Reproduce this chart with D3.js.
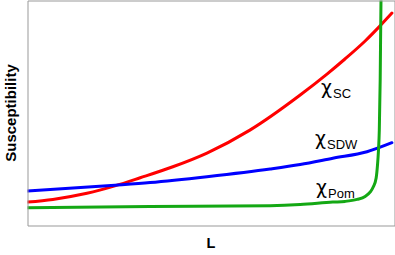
<!DOCTYPE html>
<html>
<head>
<meta charset="utf-8">
<script src="https://d3js.org/d3.v7.min.js"></script>
<style>
  html, body { margin: 0; padding: 0; background: #fff; }
  svg { display: block; font-family: "Liberation Sans", Arial, sans-serif; }
</style>
</head>
<body>
<div id="chart"></div>
<script>
// Data (arbitrary units, L and susceptibility 0..10)
const scL = [0, 0.69, 1.62, 2.38, 3.07, 3.96, 4.89, 6.06, 7.43, 8.16, 8.65, 9.20, 9.60, 9.93];
const scChi = [1.04, 1.16, 1.43, 1.76, 2.12, 2.61, 3.22, 4.24, 5.80, 6.73, 7.40, 8.20, 8.86, 9.44];

const sdwL = [0, 2.38, 3.34, 4.89, 6.61, 7.43, 8.32, 9.25, 9.93];
const sdwChi = [1.53, 1.79, 1.91, 2.17, 2.51, 2.71, 2.99, 3.28, 3.68];

const pomL = [0, 3.34, 6.61, 7.43, 8.32, 8.65, 8.98, 9.20, 9.34, 9.42, 9.50, 9.537, 9.564, 9.586, 9.610, 9.632, 9.640];
const pomChi = [0.79, 0.84, 0.88, 0.93, 1.04, 1.07, 1.16, 1.29, 1.49, 1.71, 2.11, 2.69, 3.36, 4.24, 6.47, 10.02, 10.6];

const seriesNames = ['SC', 'SDW', 'Pom'];
const seriesColors = ['#ff0000', '#0000ff', '#14a814'];

const width = 395, height = 255;
const margin = { top: 0.5, right: 0.5, bottom: 29.5, left: 27.5 };

const x = d3.scaleLinear().domain([0, 10]).range([margin.left, width - margin.right]);
const y = d3.scaleLinear().domain([0, 10]).range([height - margin.bottom, margin.top]);

const svg = d3.select('#chart').append('svg')
    .attr('width', width)
    .attr('height', height);

svg.append('clipPath').attr('id', 'plot-clip')
    .append('rect')
    .attr('x', x(0)).attr('y', y(10))
    .attr('width', x(10) - x(0)).attr('height', y(0) - y(10));

const line = d3.line()
    .x(d => x(d[0]))
    .y(d => y(d[1]))
    .curve(d3.curveMonotoneX);

const series = [
    d3.zip(scL, scChi),
    d3.zip(sdwL, sdwChi),
    d3.zip(pomL, pomChi)
];

const plot = svg.append('g').attr('clip-path', 'url(#plot-clip)');
series.forEach((pts, i) => {
    plot.append('path')
        .datum(pts)
        .attr('d', line)
        .attr('fill', 'none')
        .attr('stroke', seriesColors[i])
        .attr('stroke-width', 3)
        .attr('stroke-linecap', 'round');
});

// frame: four empty axes
const frame = svg.append('g').attr('class', 'frame');
[
    [d3.axisBottom(x), `translate(0,${y(0)})`],
    [d3.axisTop(x), `translate(0,${y(10)})`],
    [d3.axisLeft(y), `translate(${x(0)},0)`],
    [d3.axisRight(y), `translate(${x(10)},0)`]
].forEach(([axis, tr]) => {
    const g = frame.append('g')
        .attr('transform', tr)
        .call(axis.tickValues([]).tickSizeOuter(0));
    g.select('.domain').attr('stroke', '#999').attr('stroke-width', 1);
});

// curve labels
const labelPos = [[321, 94], [315, 145], [316, 194]];
seriesNames.forEach((name, i) => {
    const t = svg.append('text')
        .attr('x', labelPos[i][0])
        .attr('y', labelPos[i][1])
        .attr('fill', '#000');
    t.append('tspan').style('font-size', '19px').style('font-family', '"DejaVu Sans", sans-serif').text('χ');
    t.append('tspan').attr('dx', 1).attr('dy', 3.5).style('font-size', '13px').text(name);
});

// axis titles
svg.append('text')
    .attr('transform', `translate(16,${(y(0) + y(10)) / 2}) rotate(-90)`)
    .attr('text-anchor', 'middle')
    .style('font-size', '15px')
    .style('font-weight', 'bold')
    .text('Susceptibility');

svg.append('text')
    .attr('x', (x(0) + x(10)) / 2)
    .attr('y', 248)
    .attr('text-anchor', 'middle')
    .style('font-size', '14.5px')
    .style('font-weight', 'bold')
    .text('L');
</script>
</body>
</html>
